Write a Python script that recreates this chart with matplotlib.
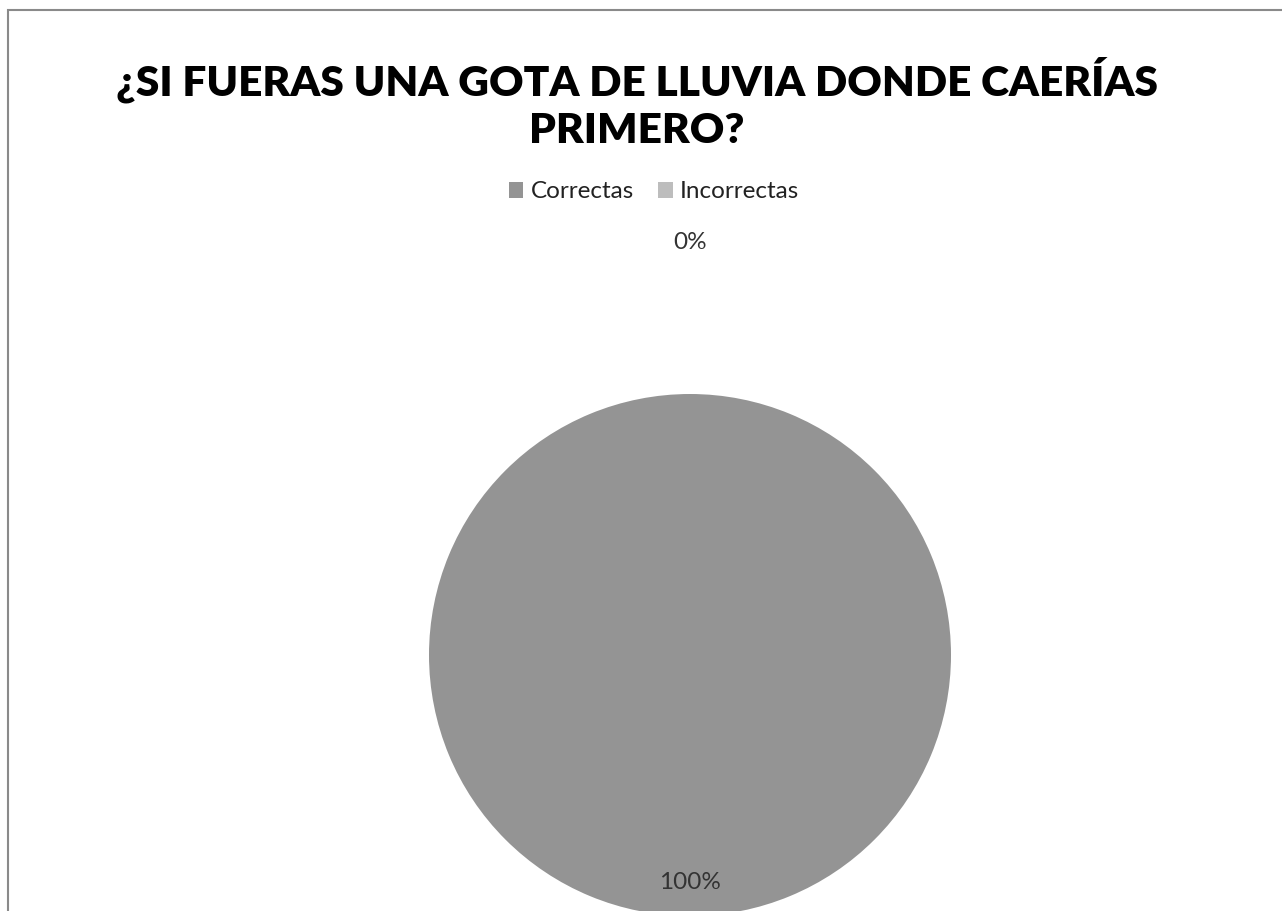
import matplotlib
matplotlib.use("Agg")
import matplotlib.pyplot as plt
from matplotlib.patches import Rectangle, Patch
import numpy as np

# datos del grafico
categorias = ["Correctas", "Incorrectas"]
valores = [100, 0]
colores = ["#949494", "#bdbdbd"]
titulo = "¿SI FUERAS UNA GOTA DE LLUVIA DONDE CAERÍAS\nPRIMERO?"

W, H = 1282, 911
fig = plt.figure(figsize=(W / 100, H / 100), dpi=100)
plt.rcParams['font.family'] = ['Lato', 'DejaVu Sans']

# marco gris del grafico
fig.patches.append(Rectangle((8 / W, -0.1), 2.0, (H - 10) / H + 0.1,
                             transform=fig.transFigure, fill=False,
                             edgecolor="#8a8a8a", linewidth=1.5))

# titulo
fig.text(637 / W, 1 - 103 / H, titulo, ha="center", va="center",
         fontsize=30.5, fontweight="heavy", color="#000000", linespacing=1.3)

# eje del pastel: centro (690, 655), radio 261 px
r = 261
cx, cy = 690, 655
ax = fig.add_axes([(cx - r) / W, (H - cy - r) / H, 2 * r / W, 2 * r / H])
wedges, _ = ax.pie(valores, colors=colores, startangle=90, counterclock=False,
                   radius=1.0, wedgeprops=dict(linewidth=0))
ax.set_xlim(-1, 1)
ax.set_ylim(-1, 1)
ax.axis("off")

# etiquetas de porcentaje
total = sum(valores)
for w, v in zip(wedges, valores):
    ang = np.deg2rad((w.theta1 + w.theta2) / 2)
    dist = 0.87 if v > 0 else 1.58
    ax.text(dist * np.cos(ang), dist * np.sin(ang), f"{v / total * 100:.0f}%",
            ha="center", va="center", fontsize=17.5, color="#333333",
            clip_on=False)

# leyenda
handles = [Patch(facecolor=c, edgecolor="none") for c in colores]
fig.legend(handles, categorias, loc="center", bbox_to_anchor=(654 / W, 1 - 192 / H),
           ncol=2, frameon=False, fontsize=17.5, handlelength=0.6, handleheight=0.6,
           handletextpad=0.3, columnspacing=1.0, labelcolor="#222222")

fig.savefig("out.png", dpi=100)
